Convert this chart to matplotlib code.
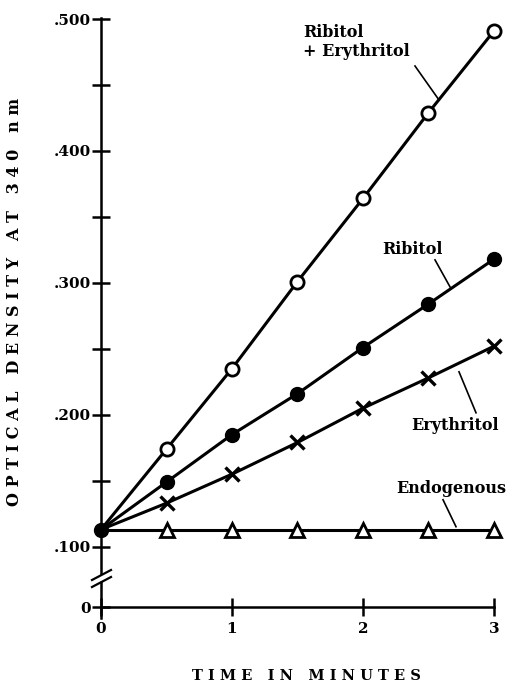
import matplotlib
matplotlib.use("Agg")
import matplotlib.pyplot as plt
from matplotlib.lines import Line2D
from matplotlib.patches import Polygon
import numpy as np

# data
time_min = [0, 0.5, 1.0, 1.5, 2.0, 2.5, 3.0]
rib_ery  = [0.113, 0.174, 0.235, 0.301, 0.364, 0.429, 0.491]
ribitol  = [0.113, 0.149, 0.185, 0.216, 0.251, 0.284, 0.318]
erythr   = [0.113, 0.133, 0.155, 0.179, 0.205, 0.228, 0.252]
endog    = [0.113, 0.113, 0.113, 0.113, 0.113, 0.113, 0.113]

ytick_vals   = [0, 0.1, 0.2, 0.3, 0.4, 0.5]
ytick_labels = ["0", ".100", ".200", ".300", ".400", ".500"]
yminor_vals  = [0.15, 0.25, 0.35, 0.45]
xtick_vals   = [0, 1, 2, 3]

W, H = 508, 686
fig = plt.figure(figsize=(W / 100, H / 100), dpi=100)

# broken y axis: everything below .100 is squeezed into a short stub
def fwd(v):
    v = np.asarray(v, dtype=float)
    return np.where(v >= 0.1, v, 0.054 + 0.46 * v)

def inv(u):
    u = np.asarray(u, dtype=float)
    return np.where(u >= 0.1, u, (u - 0.054) / 0.46)

ax = fig.add_axes([101 / W, (H - 617.7) / H, 393 / W, 600 / H])
ax.set_yscale("function", functions=(fwd, inv))
ax.set_xlim(0, 3)
ax.set_ylim(-0.017, 0.501)

serif = "DejaVu Serif"
lw = 2.2

ax.plot(time_min, endog, color="black", lw=lw, marker="^", ms=10,
        mfc="white", mec="black", mew=2, markevery=slice(1, None),
        zorder=3, clip_on=False)
ax.plot(time_min, erythr, color="black", lw=lw, marker="x", ms=10,
        mew=2.4, markevery=slice(1, None), zorder=3, clip_on=False)
ax.plot(time_min, rib_ery, color="black", lw=lw, marker="o", ms=9.5,
        mfc="white", mec="black", mew=2, markevery=slice(1, None),
        zorder=3, clip_on=False)
ax.plot(time_min, ribitol, color="black", lw=lw, marker="o", ms=10,
        mfc="black", mec="black", zorder=4, clip_on=False)

for s in ["top", "right"]:
    ax.spines[s].set_visible(False)
ax.spines["bottom"].set_position(("data", 0))
for s in ["left", "bottom"]:
    ax.spines[s].set_linewidth(1.8)

ax.set_yticks(ytick_vals)
ax.set_yticklabels(ytick_labels)
ax.set_yticks(yminor_vals, minor=True)
ax.set_xticks(xtick_vals)
ax.set_xticklabels([str(v) for v in xtick_vals])
ax.tick_params(axis="both", which="both", direction="inout", length=13,
               width=1.8, labelsize=11)
ax.tick_params(axis="y", pad=1)
ax.tick_params(axis="x", pad=4)
for lab in ax.get_xticklabels() + ax.get_yticklabels():
    lab.set_fontfamily(serif)
    lab.set_fontweight("bold")

# curve labels with leader lines
def px(x, y):
    return (x - 101) / 131, 0.5 - (y - 19) / 1320

lab_kw = dict(fontsize=11.5, fontweight="bold", family=serif, color="black")
ax.text(*px(303, 24), "Ribitol\n+ Erythritol", ha="left", va="top",
        linespacing=1.15, **lab_kw)
ax.text(*px(412, 250), "Ribitol", ha="center", va="center", **lab_kw)
ax.text(*px(455, 426), "Erythritol", ha="center", va="center", **lab_kw)
ax.text(*px(451, 489), "Endogenous", ha="center", va="center", **lab_kw)

leaders = [((415, 66), (439, 100)),
           ((435, 260), (450, 287)),
           ((459, 372), (476, 413)),
           ((443, 500), (456, 527))]
for (x0, y0), (x1, y1) in leaders:
    a, b = px(x0, y0)
    c, d = px(x1, y1)
    ax.plot([a, c], [b, d], color="black", lw=1.2, clip_on=False)

# axis break marks
def fp(x, y):
    return x / W, 1 - y / H

gap = Polygon([fp(94, 579), fp(108, 572), fp(108, 578), fp(94, 585)],
              closed=True, transform=fig.transFigure, facecolor="white",
              edgecolor="none", zorder=10)
fig.patches.append(gap)
for y0 in (580, 587):
    (x0, yy0), (x1, yy1) = fp(92, y0), fp(111, y0 - 10)
    fig.lines.append(Line2D([x0, x1], [yy0, yy1], transform=fig.transFigure,
                            color="black", lw=1.6, zorder=11))

fig.text(306 / W, 1 - 676 / H, "T I M E   I N   M I N U T E S",
         ha="center", va="center", fontsize=10.5, fontweight="bold",
         family=serif)
fig.text(15 / W, 1 - 302 / H,
         "O P T I C A L   D E N S I T Y   A T   3 4 0   n m",
         ha="center", va="center", rotation=90, fontsize=11.5,
         fontweight="bold", family=serif)

fig.savefig("out.png", dpi=100)
